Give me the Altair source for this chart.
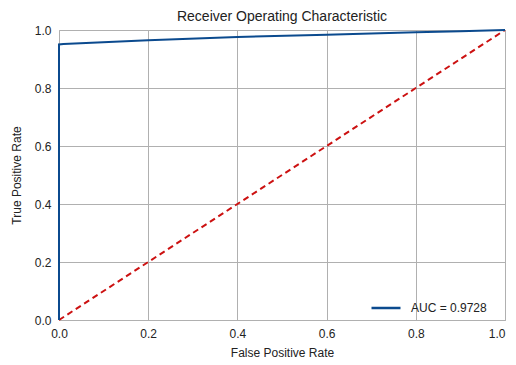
import altair as alt
import pandas as pd

fpr = [0.0, 0.0, 0.01, 0.2, 0.4, 0.6, 0.8, 0.9, 1.0]
tpr = [0.0, 0.950, 0.952, 0.965, 0.976, 0.984, 0.992, 0.996, 1.0]
diag_x = [0.0, 1.0]
diag_y = [0.0, 1.0]
label = "AUC = 0.9728"
ticks = [0.0, 0.2, 0.4, 0.6, 0.8, 1.0]

roc = pd.DataFrame({"fpr": fpr, "tpr": tpr, "series": label, "order": list(range(len(fpr)))})
diag = pd.DataFrame({"fpr": diag_x, "tpr": diag_y})

xscale = alt.Scale(domain=[0, 1], nice=False)
yscale = alt.Scale(domain=[0, 1], nice=False)

xaxis = alt.Axis(values=ticks, format=".1f", title="False Positive Rate", grid=True,
                 gridColor="#b0b0b0", gridWidth=1, ticks=False, domain=False,
                 labelFont="Liberation Sans", labelFontSize=12, labelColor="#222222",
                 labelPadding=8, titleFont="Liberation Sans", titleFontSize=12,
                 titleFontWeight="normal", titleColor="#222222", titlePadding=8,
                 labelFlush=False,
                 labelAlign=alt.expr("datum.value == 1 ? 'right' : 'center'"))
yaxis = alt.Axis(values=ticks, format=".1f", title="True Positive Rate", grid=True,
                 gridColor="#b0b0b0", gridWidth=1, ticks=False, domain=False,
                 labelFont="Liberation Sans", labelFontSize=12, labelColor="#222222",
                 labelPadding=8, titleFont="Liberation Sans", titleFontSize=12,
                 titleFontWeight="normal", titleColor="#222222", titlePadding=11,
                 labelFlush=False)

line = alt.Chart(roc).mark_line(strokeWidth=2).encode(
    x=alt.X("fpr:Q", scale=xscale, axis=xaxis),
    y=alt.Y("tpr:Q", scale=yscale, axis=yaxis),
    order="order:Q",
    color=alt.Color("series:N", scale=alt.Scale(range=["#0b4a8e"]),
                    legend=alt.Legend(title=None, orient="none", legendX=311, legendY=262,
                                      symbolType="stroke", symbolStrokeWidth=2.5, symbolSize=841,
                                      labelFont="Liberation Sans", labelFontSize=12,
                                      labelColor="#222222", padding=0, labelOffset=9)),
)

dashed = alt.Chart(diag).mark_line(color="#cc1111", strokeWidth=2, strokeDash=[6, 4]).encode(
    x=alt.X("fpr:Q", scale=xscale),
    y=alt.Y("tpr:Q", scale=yscale),
)

chart = alt.layer(dashed, line).properties(
    width=446, height=290,
    title=alt.Title("Receiver Operating Characteristic", font="Liberation Sans",
                    fontSize=14, fontWeight="normal", color="#222222", offset=0),
    autosize=alt.AutoSizeParams(type="none"),
    padding={"left": 51, "top": 22, "right": 3, "bottom": 44},
).configure_view(stroke="#b0b0b0", strokeWidth=1)

chart.save("out.html", embed_options={"renderer": "svg", "actions": False})
